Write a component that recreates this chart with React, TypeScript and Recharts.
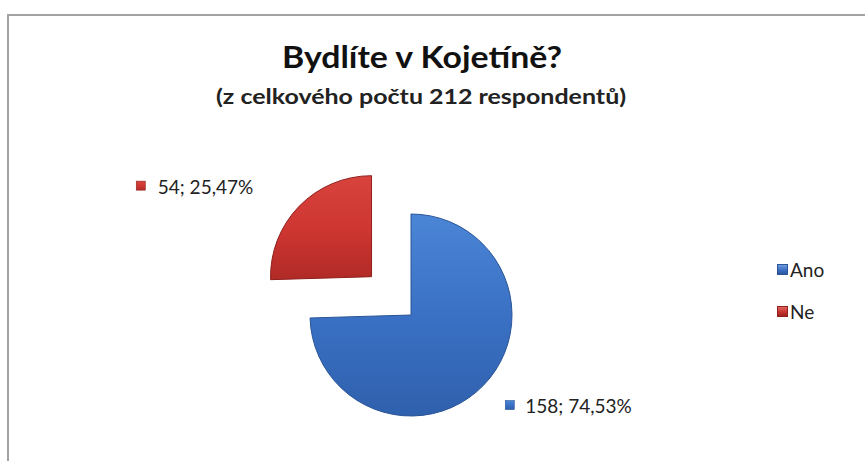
import React from 'react';
import { PieChart, Pie, Cell, Legend } from 'recharts';

// ---- data ----
const categories = ['Ano', 'Ne'];
const counts = [158, 54];
const titleText = 'Bydlíte v Kojetíně?';
const subtitleText = '(z celkového počtu 212 respondentů)';

// ---- styles ----
const FILLS = ['url(#gBlue)', 'url(#gRed)'];
const STROKES = ['#2b5597', '#8e201d'];
const MARKER_BG = [
  'linear-gradient(180deg,#6f9be0 0%,#3b6fc0 55%,#2a55a0 100%)',
  'linear-gradient(180deg,#e06560 0%,#c8342f 55%,#9c2420 100%)',
];
const FONT = 'Lato, "Open Sans", "Liberation Sans", sans-serif';

const data = categories.map((name, i) => ({ name, value: counts[i] }));
const total = counts.reduce((a, b) => a + b, 0);

// explode the second slice along its bisector
const CX = 411;
const CY = 315;
const R = 101;
const EXPLODE = 55;
const midFrac = (counts[0] + counts[1] / 2) / total; // clockwise fraction from top
const midRad = midFrac * 2 * Math.PI;
const CX2 = CX + EXPLODE * Math.sin(midRad);
const CY2 = CY - EXPLODE * Math.cos(midRad);

const RAD = Math.PI / 180;
const fmtPct = (v: number) => ((v / total) * 100).toFixed(2).replace('.', ',') + '%';

const makeLabel = (only: number) => (props: any) => {
  const { cx, cy, midAngle, outerRadius, index, value } = props;
  if (index !== only) return <g />;
  const r = outerRadius + 29;
  const x = cx + r * Math.cos(-midAngle * RAD);
  const y = cy + r * Math.sin(-midAngle * RAD);
  const left = x < cx;
  const text = `${value}; ${fmtPct(value)}`;
  if (left) {
    const textEnd = x - 25;
    const textW = 95;
    const mx = textEnd - textW - 22;
    return (
      <g>
        <rect x={mx} y={y - 5} width={9} height={9} fill={FILLS[index]} stroke={STROKES[index]} strokeWidth={0.6} />
        <text x={textEnd} y={y} textAnchor="end" dominantBaseline="central" fontFamily={FONT} fontSize={19} fill="#222">
          {text}
        </text>
      </g>
    );
  }
  const mx = x + 1;
  return (
    <g>
      <rect x={mx} y={y - 5} width={9} height={9} fill={FILLS[index]} stroke={STROKES[index]} strokeWidth={0.6} />
      <text x={mx + 20} y={y} textAnchor="start" dominantBaseline="central" fontFamily={FONT} fontSize={19} fill="#222">
        {text}
      </text>
    </g>
  );
};

const LegendContent = () => (
  <div style={{ fontFamily: FONT, fontSize: 19, color: '#222' }}>
    {categories.map((c, i) => (
      <div key={c} style={{ display: 'flex', alignItems: 'center', height: 42 }}>
        <span
          style={{
            display: 'inline-block',
            width: 9,
            height: 9,
            background: MARKER_BG[i],
            border: `1px solid ${STROKES[i]}`,
            marginRight: 2,
          }}
        />
        <span>{c}</span>
      </div>
    ))}
  </div>
);

export default function App() {
  return (
    <div style={{ position: 'absolute', left: 0, top: 0, width: 865, height: 461, background: '#fff', overflow: 'hidden' }}>
      <svg width={0} height={0} style={{ position: 'absolute' }}>
        <defs>
          <linearGradient id="gBlue" x1="0" y1="0" x2="0" y2="1">
            <stop offset="0%" stopColor="#4b85d6" />
            <stop offset="50%" stopColor="#3a71c4" />
            <stop offset="100%" stopColor="#2f60ad" />
          </linearGradient>
          <linearGradient id="gRed" x1="0" y1="0" x2="0" y2="1">
            <stop offset="0%" stopColor="#d9433d" />
            <stop offset="55%" stopColor="#cc3530" />
            <stop offset="100%" stopColor="#b02a26" />
          </linearGradient>
        </defs>
      </svg>
      <div
        style={{
          position: 'absolute',
          left: 7,
          top: 14,
          width: 900,
          height: 500,
          borderTop: '2px solid #a2a2a2',
          borderLeft: '2px solid #a2a2a2',
        }}
      />
      <svg width={865} height={461} style={{ position: 'absolute', left: 0, top: 0 }}>
        <text x={422} y={68} textAnchor="middle" fontFamily={FONT} fontWeight={700} fontSize={31} fill="#111"
          textLength={280} lengthAdjust="spacingAndGlyphs">
          {titleText}
        </text>
        <text x={421} y={104} textAnchor="middle" fontFamily={FONT} fontWeight={700} fontSize={21} fill="#222"
          textLength={410} lengthAdjust="spacingAndGlyphs">
          {subtitleText}
        </text>
      </svg>
      <div style={{ position: 'absolute', left: 0, top: 0 }}>
        <PieChart width={865} height={461} margin={{ top: 0, right: 0, bottom: 0, left: 0 }}>
          <Pie
            data={data}
            dataKey="value"
            nameKey="name"
            cx={CX}
            cy={CY}
            outerRadius={R}
            startAngle={90}
            endAngle={-270}
            isAnimationActive={false}
            labelLine={false}
            label={makeLabel(0)}
          >
            {data.map((d, i) => (
              <Cell key={d.name} fill={i === 0 ? FILLS[0] : 'none'} stroke={i === 0 ? STROKES[0] : 'none'} strokeWidth={1} />
            ))}
          </Pie>
          <Pie
            data={data}
            dataKey="value"
            nameKey="name"
            cx={CX2}
            cy={CY2}
            outerRadius={R}
            startAngle={90}
            endAngle={-270}
            isAnimationActive={false}
            labelLine={false}
            label={makeLabel(1)}
          >
            {data.map((d, i) => (
              <Cell key={d.name} fill={i === 1 ? FILLS[1] : 'none'} stroke={i === 1 ? STROKES[1] : 'none'} strokeWidth={1} />
            ))}
          </Pie>
          <Legend content={LegendContent} wrapperStyle={{ position: 'absolute', left: 777, top: 248, width: 80, height: 90 }} />
        </PieChart>
      </div>
    </div>
  );
}
